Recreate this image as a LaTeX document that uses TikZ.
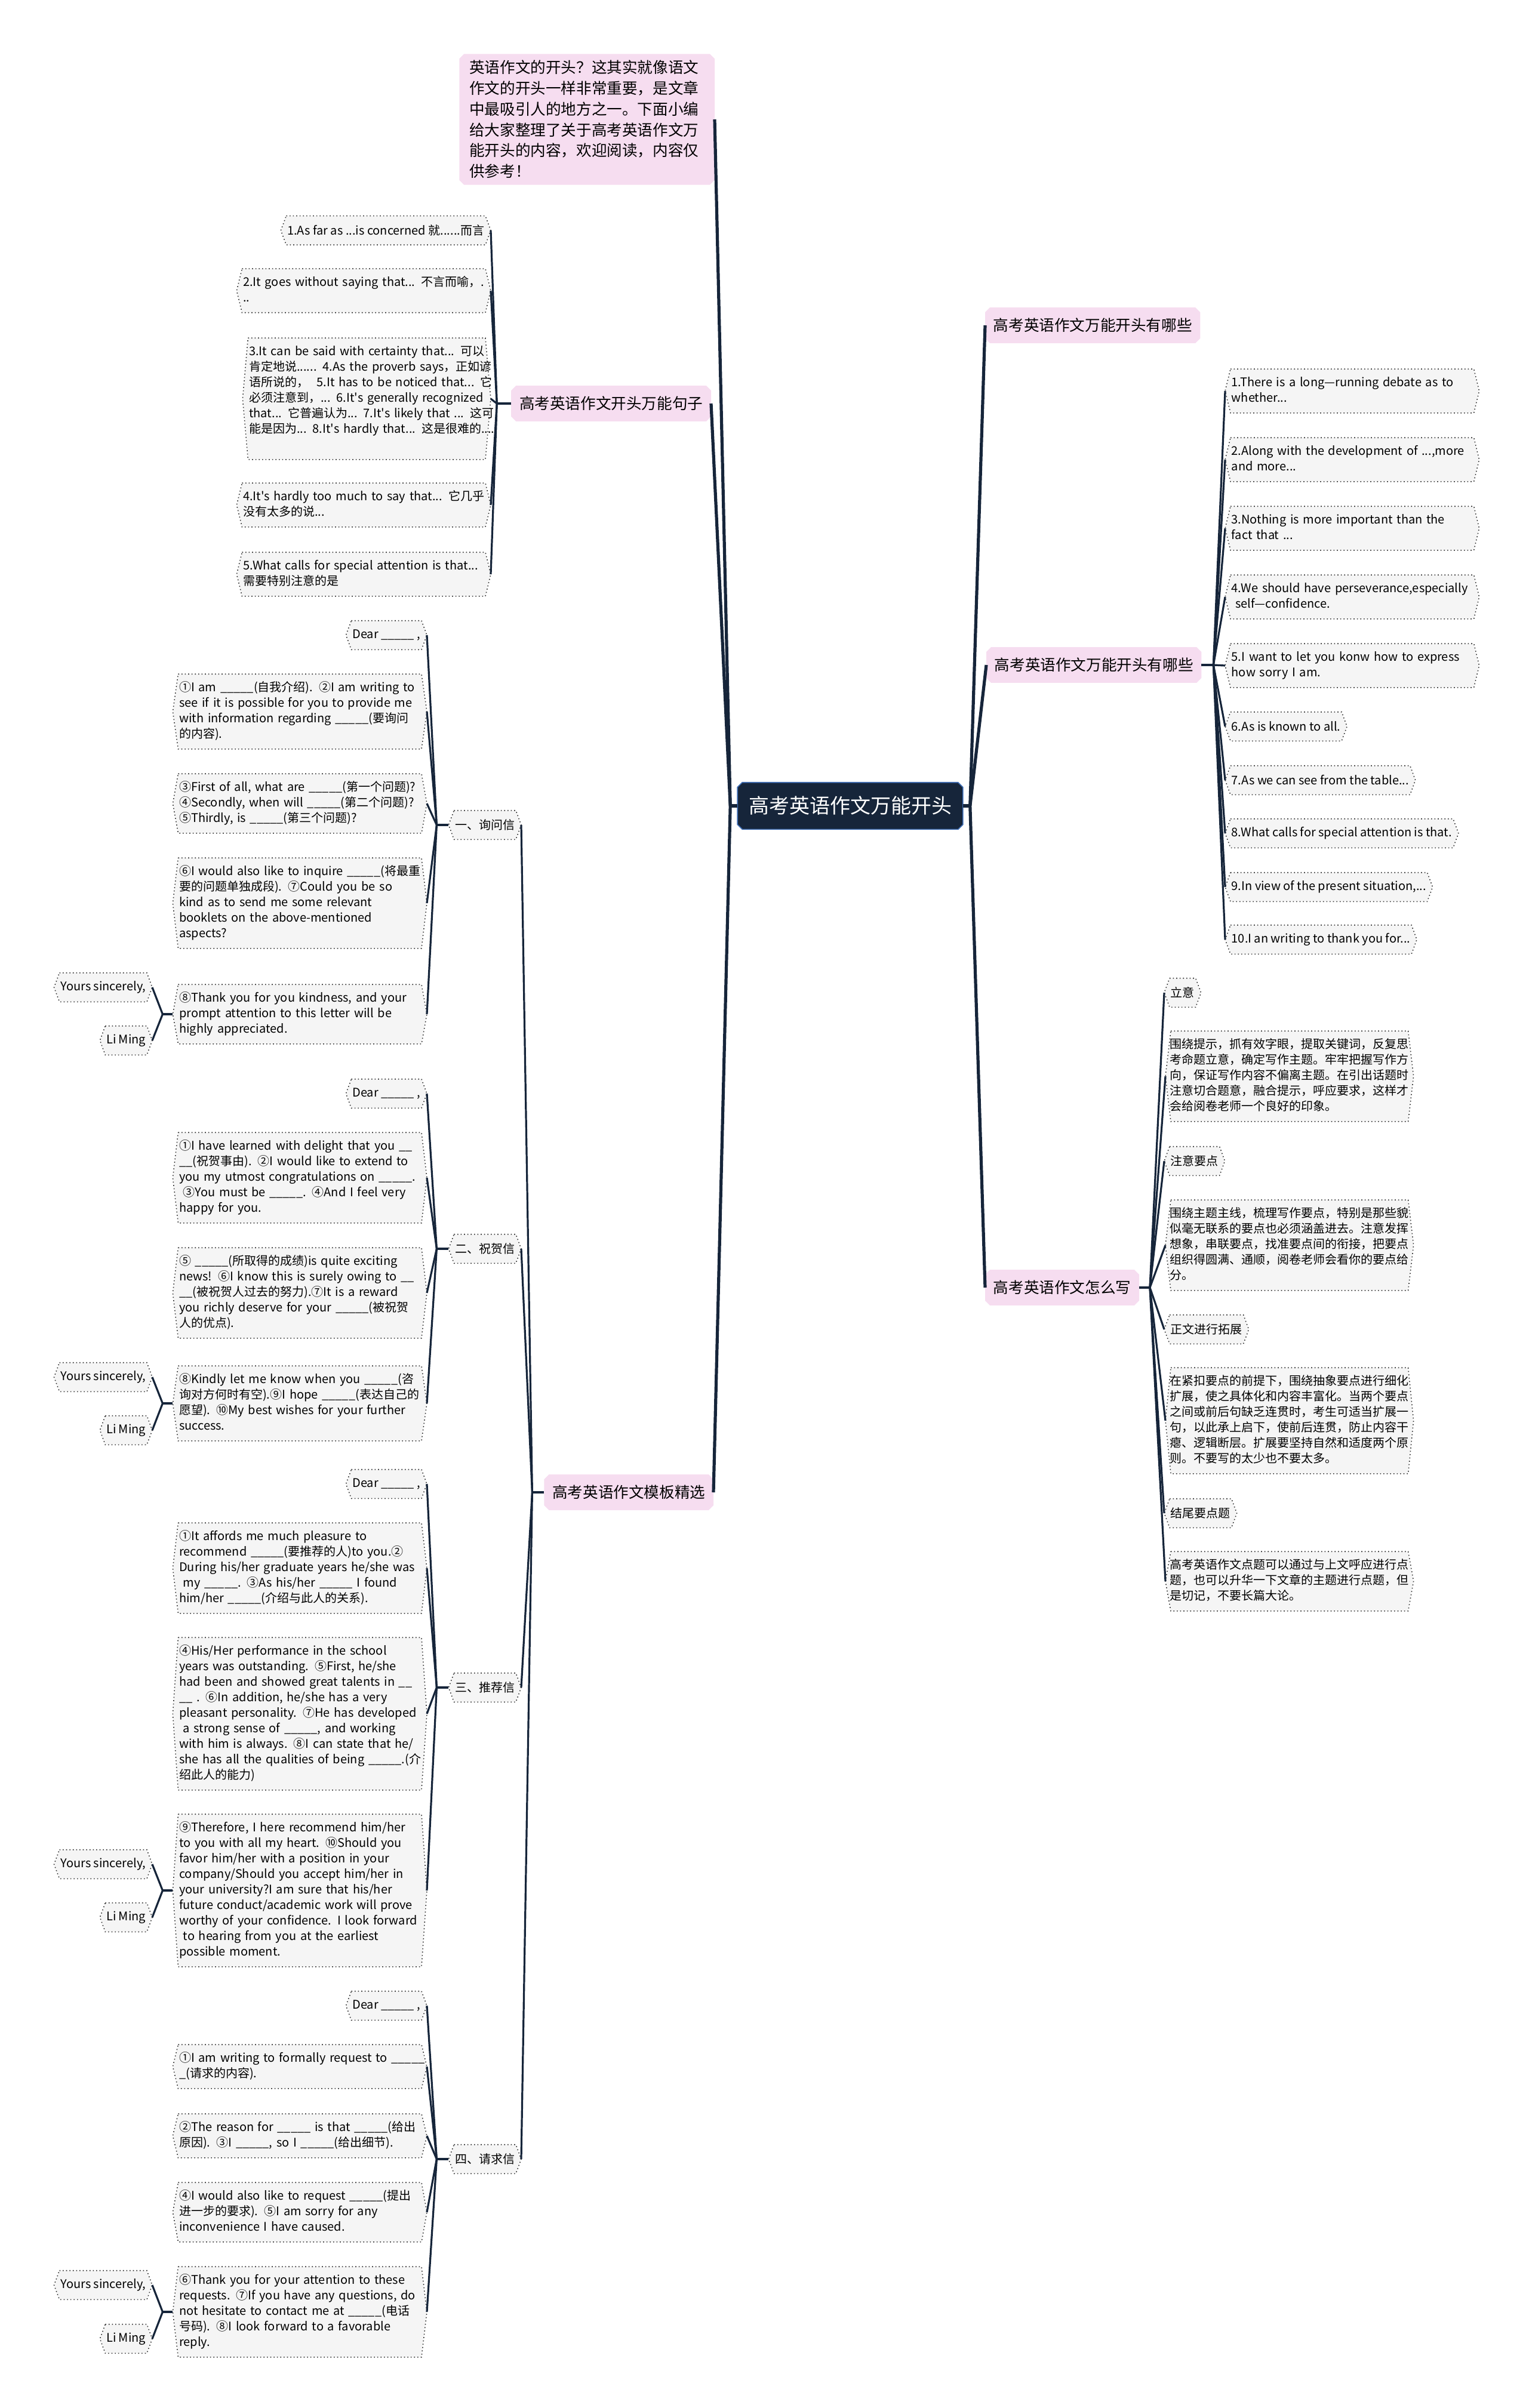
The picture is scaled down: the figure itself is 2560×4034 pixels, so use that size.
\documentclass[tikz,border=0pt]{standalone}
\usepackage{fontspec}
\setmainfont{Noto Sans CJK SC}[Ligatures=TeXOff]
\usepackage{xcolor}
\usetikzlibrary{positioning,backgrounds}

\definecolor{navy}{HTML}{16253A}
\definecolor{rim}{HTML}{3E6DB5}
\definecolor{pinkfill}{HTML}{F6DDF0}
\definecolor{leaffill}{HTML}{F5F5F5}
\definecolor{dotline}{HTML}{333333}

\newcommand{\blnk}{\_\_\_\_\_}
% lines kept as typed, no extra breaks
\newcommand{\lns}[1]{\begin{tabular}{@{}l@{}}#1\end{tabular}}
% hexagon round a leaf node, chamfered box round a topic node
\newcommand{\hexframe}[1]{%
  \path[hexline] ([xshift=2.25pt]#1.north west) -- ([xshift=-2.25pt]#1.north east)
    -- (#1.east) -- ([xshift=-2.25pt]#1.south east)
    -- ([xshift=2.25pt]#1.south west) -- (#1.west) -- cycle;}
\newcommand{\octframe}[2]{%
  \path[#2] ([xshift=2pt]#1.north west) -- ([xshift=-2pt]#1.north east)
    -- ([yshift=-2pt]#1.north east) -- ([yshift=2pt]#1.south east)
    -- ([xshift=-2pt]#1.south east) -- ([xshift=2pt]#1.south west)
    -- ([yshift=2pt]#1.south west) -- ([yshift=-2pt]#1.north west) -- cycle;}

\begin{document}
\begin{tikzpicture}[
  x=0.25pt, y=-0.25pt,
  root/.style={text=white, font=\fontsize{8.5}{10}\selectfont,
               inner xsep=4.5pt, minimum height=19.25pt},
  topic/.style={font=\fontsize{6.4}{8.7}\selectfont,
                inner xsep=3.25pt, minimum height=14.5pt},
  leaf/.style={font=\fontsize{5}{6.5}\selectfont,
               inner xsep=2.5pt, inner ysep=2.5pt, minimum height=11.75pt},
  longleaf/.style={leaf, text width=101pt},
  cjkleaf/.style={leaf, text width=100pt, inner xsep=1.75pt},
  trunk/.style={draw=navy, line width=1.3pt},
  branch/.style={draw=navy, line width=0.8pt},
  hexline/.style={draw=dotline, densely dotted, line width=0.4pt, fill=leaffill},
  pinkbox/.style={fill=pinkfill},
  rootbox/.style={fill=navy, draw=rim, line width=0.4pt}
]
\useasboundingbox (0,0) rectangle (2560,4034);
% --- centre and first level ---
\node[root] (ctr) at (1424,1350) {高考英语作文万能开头};
\node[topic, anchor=east, text width=98.5pt, align=left, inner xsep=4pt, inner ysep=2.5pt] (intro) at (1197,200)
  {英语作文的开头？这其实就像语文\\作文的开头一样非常重要，是文章\\中最吸引人的地方之一。下面小编\\给大家整理了关于高考英语作文万\\能开头的内容，欢迎阅读，内容仅\\供参考！};
\node[topic, anchor=east] (t1) at (1191,676) {高考英语作文开头万能句子};
\node[topic, anchor=east] (t2) at (1195,2500) {高考英语作文模板精选};
\node[topic, anchor=west] (r1) at (1650,545) {高考英语作文万能开头有哪些};
\node[topic, anchor=west] (r2) at (1652,1114) {高考英语作文万能开头有哪些};
\node[topic, anchor=west] (r3) at (1650,2157) {高考英语作文怎么写};
% --- opening sentences (left) ---
\node[leaf, anchor=east] (s1) at (822,386) {1.As far as ...is concerned 就......而言};
\node[longleaf, anchor=east] (s2) at (822,487) {\lns{2.It goes without saying that... 不言而喻，.\\..}};
\node[leaf, text width=98.5pt, anchor=east] (s3) at (822,668)
  {\lns{3.It can be said with certainty that... 可以\\肯定地说...... 4.As the proverb says，正如谚\\语所说的，\ \ 5.It has to be noticed that... 它\\必须注意到，... 6.It's generally recognized\\that... 它普遍认为... 7.It's likely that ... 这可\\能是因为... 8.It's hardly that... 这是很难的.....\\\mbox{}}};
\node[longleaf, anchor=east] (s4) at (822,846) {\lns{4.It's hardly too much to say that... 它几乎\\没有太多的说...}};
\node[longleaf, anchor=east] (s5) at (822,962) {\lns{5.What calls for special attention is that...\\需要特别注意的是}};
% --- opening phrases (right) ---
\node[longleaf, anchor=west] (h1) at (2052,655) {\lns{1.There is a long—running debate as to\\whether...}};
\node[longleaf, anchor=west] (h2) at (2052,770) {\lns{2.Along with the development of ...,more\\and more...}};
\node[longleaf, anchor=west] (h3) at (2052,885) {\lns{3.Nothing is more important than the\\fact that ...}};
\node[longleaf, anchor=west] (h4) at (2052,1000) {\lns{4.We should have perseverance,especially\\\ self—confidence.}};
\node[longleaf, anchor=west] (h5) at (2052,1115) {\lns{5.I want to let you konw how to express\\how sorry I am.}};
\node[leaf, anchor=west] (h6) at (2052,1217) {6.As is known to all.};
\node[leaf, anchor=west] (h7) at (2052,1307) {7.As we can see from the table...};
\node[leaf, anchor=west] (h8) at (2052,1396) {8.What calls for special attention is that.};
\node[leaf, anchor=west] (h9) at (2052,1486) {9.In view of the present situation,...};
\node[leaf, anchor=west] (h10) at (2052,1574) {10.I an writing to thank you for...};
% --- how to write (right) ---
\node[leaf, anchor=west] (w1) at (1950,1663) {立意};
\node[cjkleaf, anchor=west] (w2) at (1952,1803)
  {\lns{围绕提示，抓有效字眼，提取关键词，反复思\\考命题立意，确定写作主题。牢牢把握写作方\\向，保证写作内容不偏离主题。在引出话题时\\注意切合题意，融合提示，呼应要求，这样才\\会给阅卷老师一个良好的印象。}};
\node[leaf, anchor=west] (w3) at (1950,1945) {注意要点};
\node[cjkleaf, anchor=west] (w4) at (1952,2086)
  {\lns{围绕主题主线，梳理写作要点，特别是那些貌\\似毫无联系的要点也必须涵盖进去。注意发挥\\想象，串联要点，找准要点间的衔接，把要点\\组织得圆满、通顺，阅卷老师会看你的要点给\\分。}};
\node[leaf, anchor=west] (w5) at (1950,2227) {正文进行拓展};
\node[cjkleaf, anchor=west] (w6) at (1952,2380)
  {\lns{在紧扣要点的前提下，围绕抽象要点进行细化\\扩展，使之具体化和内容丰富化。当两个要点\\之间或前后句缺乏连贯时，考生可适当扩展一\\句，以此承上启下，使前后连贯，防止内容干\\瘪、逻辑断层。扩展要坚持自然和适度两个原\\则。不要写的太少也不要太多。}};
\node[leaf, anchor=west] (w7) at (1950,2535) {结尾要点题};
\node[cjkleaf, anchor=west] (w8) at (1952,2649)
  {\lns{高考英语作文点题可以通过与上文呼应进行点\\题，也可以升华一下文章的主题进行点题，但\\是切记，不要长篇大论。}};
% --- letter types (left) ---
\node[leaf, anchor=east] (lq) at (873,1382) {一、询问信};
\node[leaf, anchor=east] (lg) at (873,2092) {二、祝贺信};
\node[leaf, anchor=east] (lk) at (873,2827) {三、推荐信};
\node[leaf, anchor=east] (le) at (873,3617) {四、请求信};
% inquiry
\node[leaf, anchor=east] (q0) at (715,1064) {Dear \blnk\ ,};
\node[longleaf, anchor=east] (q1) at (715,1192)
  {\lns{①I am \blnk(自我介绍). ②I am writing to\\see if it is possible for you to provide me\\with information regarding \blnk(要询问\\的内容).}};
\node[longleaf, anchor=east] (q2) at (715,1346)
  {\lns{③First of all, what are \blnk(第一个问题)?\\④Secondly, when will \blnk(第二个问题)?\\⑤Thirdly, is \blnk(第三个问题)?}};
\node[longleaf, anchor=east] (q3) at (715,1513)
  {\lns{⑥I would also like to inquire \blnk(将最重\\要的问题单独成段). ⑦Could you be so\\kind as to send me some relevant\\booklets on the above-mentioned\\aspects?}};
\node[longleaf, anchor=east] (q4) at (715,1699)
  {\lns{⑧Thank you for you kindness, and your\\prompt attention to this letter will be\\highly appreciated.}};
\node[leaf, anchor=east] (qy) at (255,1654) {Yours sincerely,};
\node[leaf, anchor=east] (qm) at (255,1743) {Li Ming};
% congratulation
\node[leaf, anchor=east] (g0) at (715,1832) {Dear \blnk\ ,};
\node[longleaf, anchor=east] (g1) at (715,1973)
  {\lns{①I have learned with delight that you \_\_\\\_\_(祝贺事由). ②I would like to extend to\\you my utmost congratulations on \blnk.\\\ ③You must be \blnk. ④And I feel very\\happy for you.}};
\node[longleaf, anchor=east] (g2) at (715,2166)
  {\lns{⑤ \blnk(所取得的成绩)is quite exciting\\news! ⑥I know this is surely owing to \_\_\\\_\_(被祝贺人过去的努力).⑦It is a reward\\you richly deserve for your \blnk(被祝贺\\人的优点).}};
\node[longleaf, anchor=east] (g3) at (715,2351)
  {\lns{⑧Kindly let me know when you \blnk(咨\\询对方何时有空).⑨I hope \blnk(表达自己的\\愿望). ⑩My best wishes for your further\\success.}};
\node[leaf, anchor=east] (gy) at (255,2307) {Yours sincerely,};
\node[leaf, anchor=east] (gm) at (255,2396) {Li Ming};
% recommendation
\node[leaf, anchor=east] (k0) at (715,2486) {Dear \blnk\ ,};
\node[longleaf, anchor=east] (k1) at (715,2627)
  {\lns{①It affords me much pleasure to\\recommend \blnk(要推荐的人)to you.②\\During his/her graduate years he/she was\\\ my \blnk. ③As his/her \blnk\ I found\\him/her \blnk(介绍与此人的关系).}};
\node[longleaf, anchor=east] (k2) at (715,2871)
  {\lns{④His/Her performance in the school\\years was outstanding. ⑤First, he/she\\had been and showed great talents in \_\_\\\_\_ . ⑥In addition, he/she has a very\\pleasant personality. ⑦He has developed\\\ a strong sense of \blnk, and working\\with him is always. ⑧I can state that he/\\she has all the qualities of being \blnk.(介\\绍此人的能力)}};
\node[longleaf, anchor=east] (k3) at (715,3167)
  {\lns{⑨Therefore, I here recommend him/her\\to you with all my heart. ⑩Should you\\favor him/her with a position in your\\company/Should you accept him/her in\\your university?I am sure that his/her\\future conduct/academic work will prove\\worthy of your confidence. I look forward\\\ to hearing from you at the earliest\\possible moment.}};
\node[leaf, anchor=east] (ky) at (255,3123) {Yours sincerely,};
\node[leaf, anchor=east] (km) at (255,3212) {Li Ming};
% request
\node[leaf, anchor=east] (e0) at (715,3360) {Dear \blnk\ ,};
\node[longleaf, anchor=east] (e1) at (715,3462)
  {\lns{①I am writing to formally request to \blnk\\\_(请求的内容).}};
\node[longleaf, anchor=east] (e2) at (715,3578)
  {\lns{②The reason for \blnk\ is that \blnk(给出\\原因). ③I \blnk, so I \blnk(给出细节).}};
\node[longleaf, anchor=east] (e3) at (715,3706)
  {\lns{④I would also like to request \blnk(提出\\进一步的要求). ⑤I am sorry for any\\inconvenience I have caused.}};
\node[longleaf, anchor=east] (e4) at (715,3873)
  {\lns{⑥Thank you for your attention to these\\requests. ⑦If you have any questions, do\\not hesitate to contact me at \blnk(电话\\号码). ⑧I look forward to a favorable\\reply.}};
\node[leaf, anchor=east] (ey) at (255,3828) {Yours sincerely,};
\node[leaf, anchor=east] (em) at (255,3918) {Li Ming};
% --- frames ---
\begin{scope}[on background layer]
  \octframe{ctr}{rootbox}
  \foreach \n in {intro,t1,t2,r1,r2,r3} {\octframe{\n}{pinkbox}}
  \foreach \n in {s1,s2,s3,s4,s5,h1,h2,h3,h4,h5,h6,h7,h8,h9,h10,
                  w1,w2,w3,w4,w5,w6,w7,w8,lq,lg,lk,le,
                  q0,q1,q2,q3,q4,qy,qm,g0,g1,g2,g3,gy,gm,
                  k0,k1,k2,k3,ky,km,e0,e1,e2,e3,e4,ey,em} {\hexframe{\n}}
\end{scope}
% --- connectors ---
\coordinate[left=3pt of ctr] (jl);
\coordinate[right=3pt of ctr] (jr);
\draw[trunk] (ctr.west) -- (jl);
\draw[trunk] (ctr.east) -- (jr);
\foreach \n in {intro,t1,t2} \draw[trunk] (jl) -- (\n.east);
\foreach \n in {r1,r2,r3} \draw[trunk] (jr) -- (\n.west);
\coordinate[left=6pt of t1] (js);
\draw[branch] (t1.west) -- (js);
\foreach \n in {s1,s2,s3,s4,s5} \draw[branch] (js) -- (\n.east);
\coordinate[right=5pt of r2] (jh);
\draw[branch] (r2.east) -- (jh);
\foreach \n in {h1,h2,h3,h4,h5,h6,h7,h8,h9,h10} \draw[branch] (jh) -- (\n.west);
\coordinate[right=4.5pt of r3] (jw);
\draw[branch] (r3.east) -- (jw);
\foreach \n in {w1,w2,w3,w4,w5,w6,w7,w8} \draw[branch] (jw) -- (\n.west);
\coordinate[left=5pt of t2] (jt);
\draw[branch] (t2.west) -- (jt);
\foreach \n in {lq,lg,lk,le} \draw[branch] (jt) -- (\n.east);
\coordinate[left=5pt of lq] (jq);
\draw[branch] (lq.west) -- (jq);
\foreach \n in {q0,q1,q2,q3,q4} \draw[branch] (jq) -- (\n.east);
\coordinate[left=5pt of lg] (jg);
\draw[branch] (lg.west) -- (jg);
\foreach \n in {g0,g1,g2,g3} \draw[branch] (jg) -- (\n.east);
\coordinate[left=5pt of lk] (jk);
\draw[branch] (lk.west) -- (jk);
\foreach \n in {k0,k1,k2,k3} \draw[branch] (jk) -- (\n.east);
\coordinate[left=5pt of le] (je);
\draw[branch] (le.west) -- (je);
\foreach \n in {e0,e1,e2,e3,e4} \draw[branch] (je) -- (\n.east);
% signatures
\coordinate[left=4.25pt of q4] (jq4);
\draw[branch] (q4.west) -- (jq4);
\draw[branch] (jq4) -- (qy.east);
\draw[branch] (jq4) -- (qm.east);
\coordinate[left=4.25pt of g3] (jg3);
\draw[branch] (g3.west) -- (jg3);
\draw[branch] (jg3) -- (gy.east);
\draw[branch] (jg3) -- (gm.east);
\coordinate[left=4.25pt of k3] (jk3);
\draw[branch] (k3.west) -- (jk3);
\draw[branch] (jk3) -- (ky.east);
\draw[branch] (jk3) -- (km.east);
\coordinate[left=4.25pt of e4] (je4);
\draw[branch] (e4.west) -- (je4);
\draw[branch] (je4) -- (ey.east);
\draw[branch] (je4) -- (em.east);
\end{tikzpicture}
\end{document}
